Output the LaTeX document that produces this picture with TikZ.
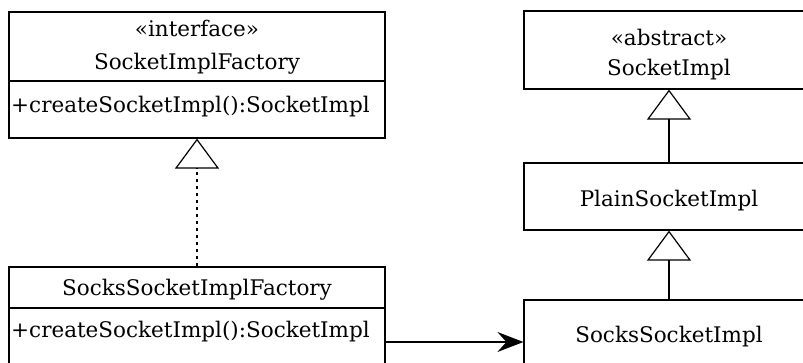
\documentclass[tikz,border=0pt]{standalone}
\usepackage{fontspec}
\setmainfont{DejaVu Serif}
\usetikzlibrary{arrows.meta}
\begin{document}
\begin{tikzpicture}[x=1pt,y=-1pt,
  cls/.style={draw,line width=1.2pt,inner sep=0pt},
  lbl/.style={anchor=base,inner sep=0pt,font=\fontsize{21.5}{26}\selectfont},
  gen/.style={-{Triangle[open,length=30pt,width=44pt,line width=1.2pt]},line width=1.2pt},
  dep/.style={-{Stealth[length=26pt,width=20pt,inset=9pt]},line width=1.2pt}]
\useasboundingbox (0,0) rectangle (803,363);
\clip (0,0) rectangle (803,363);
% boxes
\node[cls, minimum width=376pt, minimum height=126pt] (ifac) at (197,75) {};
\node[cls, minimum width=376pt, minimum height=153pt] (sfac) at (197,343.5) {};
\node[cls, minimum width=290pt, minimum height=78pt] (simpl) at (669,50) {};
\node[cls, minimum width=290pt, minimum height=67pt] (plain) at (669,196.5) {};
\node[cls, minimum width=290pt, minimum height=120pt] (socks) at (669,360) {};
% dividers
\draw[line width=1.2pt] (ifac.west |- 0,81) -- (ifac.east |- 0,81);
\draw[line width=1.2pt] (sfac.west |- 0,308) -- (sfac.east |- 0,308);
% texts
\node[lbl] (t1) at (197,37) {«interface»};
\node[lbl] (t2) at (197,70) {SocketImplFactory};
\node[lbl, anchor=base west] (t3) at (11,113) {+createSocketImpl():SocketImpl};
\node[lbl] (t4) at (197,296) {SocksSocketImplFactory};
\node[lbl, anchor=base west] (t5) at (11,337) {+createSocketImpl():SocketImpl};
\node[lbl] (t6) at (669,46) {«abstract»};
\node[lbl] (t7) at (669,76) {SocketImpl};
\node[lbl] (t8) at (669,207) {PlainSocketImpl};
\node[lbl] (t9) at (669,342) {SocksSocketImpl};
% connectors
\draw[gen] (plain) -- (simpl);
\draw[gen] (socks) -- (plain);
\draw[gen, dash pattern=on 3pt off 4pt] (sfac) -- (ifac);
\draw[dep] (sfac.east |- 0,342) -- (socks.west |- 0,342);
\end{tikzpicture}
\end{document}
